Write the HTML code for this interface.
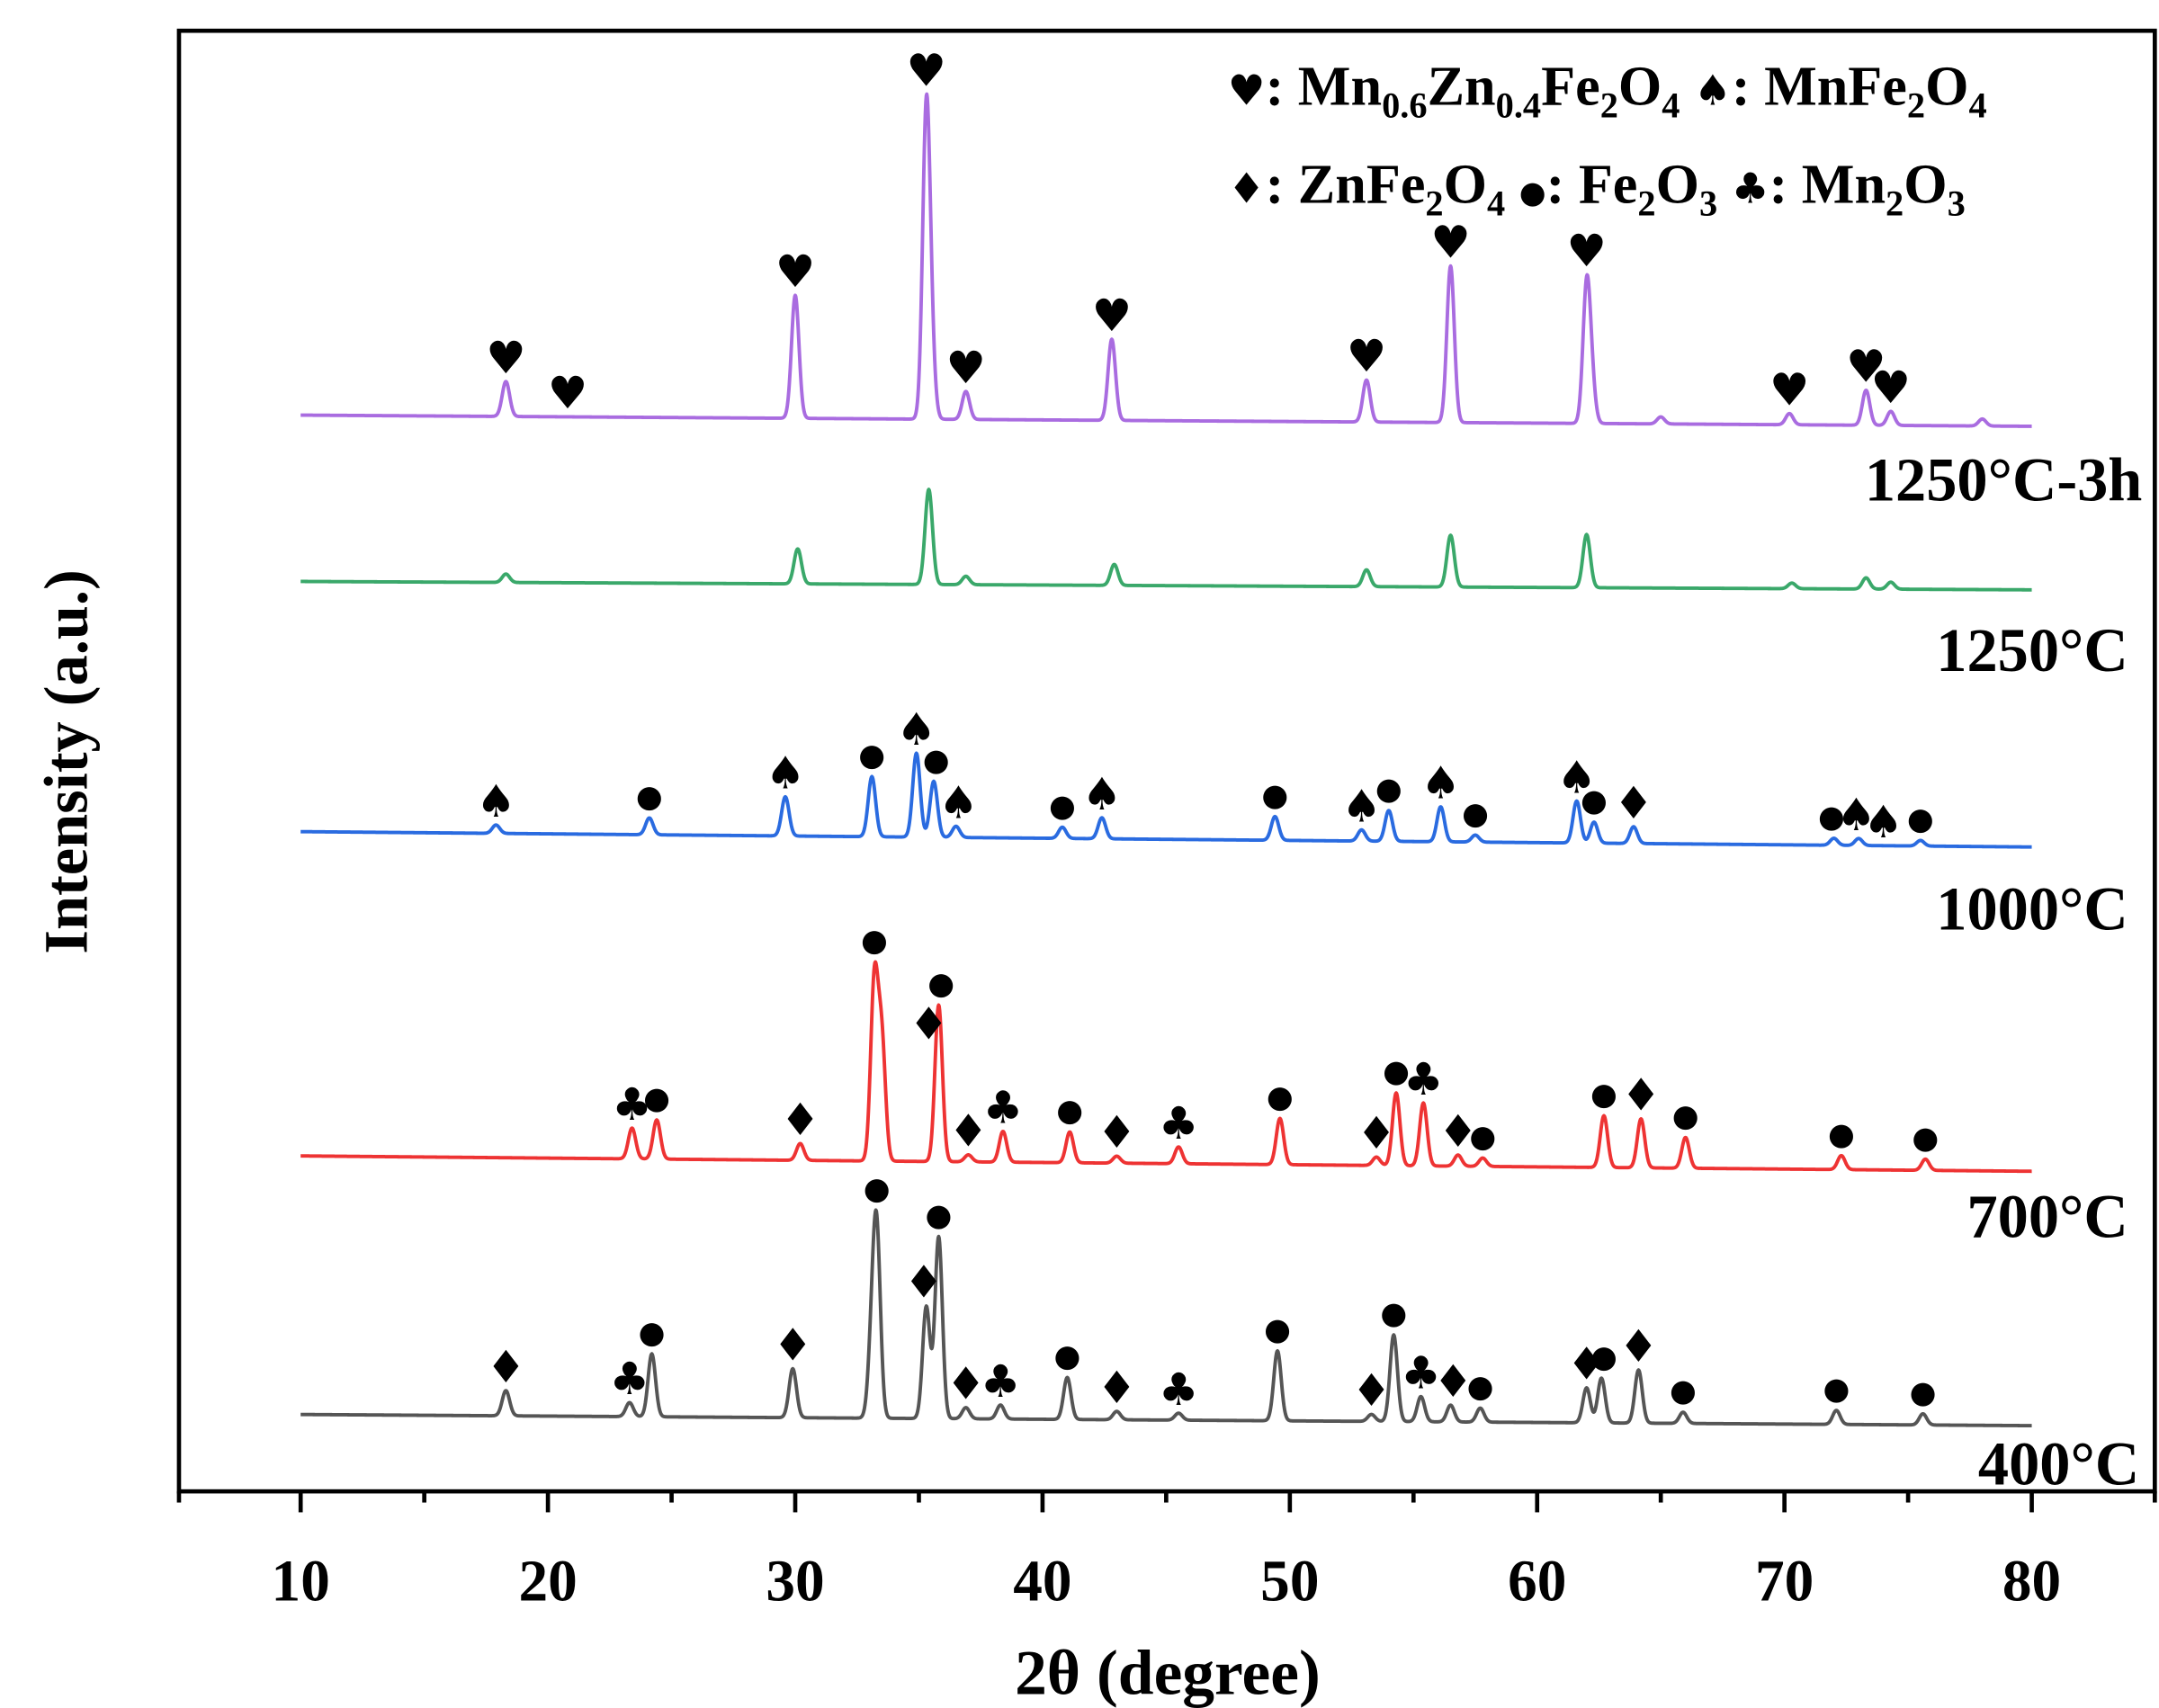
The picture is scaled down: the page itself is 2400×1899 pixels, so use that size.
<!DOCTYPE html>
<html><head><meta charset="utf-8"><style>
html,body{margin:0;padding:0;background:#fff;}
svg{display:block;}
text{font-family:"Liberation Serif",serif;font-weight:bold;fill:#000;}
.sym{font-family:"DejaVu Sans",sans-serif;font-weight:normal;}
</style></head><body>
<svg id="chart" width="2400" height="1899" viewBox="0 0 1544 1222" preserveAspectRatio="none" xmlns="http://www.w3.org/2000/svg">
<rect x="128" y="22" width="1413" height="1045" fill="none" stroke="#000" stroke-width="3"/>
<g id="xaxis"></g>
<g id="series"></g>
<g id="markers"></g>
<text x="835" y="1212" font-size="46" text-anchor="middle">2θ (degree)</text>
<text transform="translate(62,545) rotate(-90)" font-size="44" text-anchor="middle">Intensity (a.u.)</text>
<g font-size="40">
<text x="878" y="75"><tspan class="sym" font-size="30">♥</tspan>: Mn<tspan font-size="26" dy="9">0.6</tspan><tspan dy="-9">Zn</tspan><tspan font-size="26" dy="9">0.4</tspan><tspan dy="-9">Fe</tspan><tspan font-size="26" dy="9">2</tspan><tspan dy="-9">O</tspan><tspan font-size="26" dy="9">4</tspan><tspan dy="-9"> </tspan><tspan class="sym" font-size="30">♠</tspan>: MnFe<tspan font-size="26" dy="9">2</tspan><tspan dy="-9">O</tspan><tspan font-size="26" dy="9">4</tspan></text>
<text x="878" y="145"><tspan class="sym" font-size="30">♦</tspan>: ZnFe<tspan font-size="26" dy="9">2</tspan><tspan dy="-9">O</tspan><tspan font-size="26" dy="9">4</tspan><tspan dy="-9"> </tspan><tspan class="sym" font-size="22">●</tspan>: Fe<tspan font-size="26" dy="9">2</tspan><tspan dy="-9">O</tspan><tspan font-size="26" dy="9">3</tspan><tspan dy="-9"> </tspan><tspan class="sym" font-size="30">♣</tspan>: Mn<tspan font-size="26" dy="9">2</tspan><tspan dy="-9">O</tspan><tspan font-size="26" dy="9">3</tspan></text>
</g>
<g font-size="44" text-anchor="end">
<text x="1532" y="358">1250°C-3h</text>
<text x="1522" y="480">1250°C</text>
<text x="1522" y="665">1000°C</text>
<text x="1522" y="885">700°C</text>
<text x="1530" y="1062">400°C</text>
</g>
</svg>
<script>
const xTicks=[10,20,30,40,50,60,70,80];
const minorTicks=[5,15,25,35,45,55,65,75,85];
const seriesNames=["1250C-3h","1250C","1000C","700C","400C"];
const seriesColors=["#a96ce0","#3aa86a","#2a6be0","#ee3333","#555555"];
const baseStart=[297,416,595,827,1012];
const baseEnd=[305,422,606,838,1020];
const peaks3h=[[18.3,25],[30,88],[35.3,215],[35.5,40],[36.9,20],[42.8,58],[53.1,30],[56.5,112],[62,95],[62.2,25],[65,5],[70.2,8],[73.3,25],[74.3,10],[78,5]];
const peaks1250=[[18.3,6],[30.1,25],[35.4,68],[36.9,6],[42.9,15],[53.1,12],[56.5,37],[62,38],[70.3,4],[73.3,8],[74.3,5]];
const peaks1000=[[17.9,6],[24.1,12],[29.6,28],[33.1,43],[34.9,60],[35.6,40],[36.5,8],[40.8,8],[42.4,15],[49.4,17],[52.9,8],[54,22],[56.1,25],[57.5,5],[61.6,30],[62.3,15],[63.9,12],[72,5],[73,5],[75.5,4]];
const peaks700=[[23.4,22],[24.4,28],[30.2,12],[33.2,128],[33.5,85],[35.8,112],[37,5],[38.4,22],[41.1,22],[43,5],[45.5,12],[49.6,33],[53.5,6],[54.3,52],[55.4,45],[56.8,8],[57.8,6],[62.7,37],[64.2,35],[66,22],[72.3,10],[75.7,8]];
const peaks400=[[18.3,18],[23.3,10],[24.2,45],[29.9,35],[33.1,50],[33.3,125],[35.3,80],[35.8,130],[36.9,8],[38.3,10],[41,30],[43,6],[45.5,5],[49.5,50],[53.3,5],[54.2,62],[55.3,18],[56.5,12],[57.7,10],[62,25],[62.6,32],[64.1,38],[65.9,8],[72.1,10],[75.6,8]];
const allPeaks=[peaks3h,peaks1250,peaks1000,peaks700,peaks400];
const marks3h=[[18.3,"♥"],[20.8,"♥"],[30,"♥"],[35.3,"♥"],[36.9,"♥"],[42.8,"♥"],[53.1,"♥"],[56.5,"♥"],[62,"♥"],[70.2,"♥"],[73.3,"♥"],[74.3,"♥"]];
const marks1250=[];
const marks1000=[[17.9,"♠"],[24.1,"●"],[29.6,"♠"],[33.1,"●"],[34.9,"♠"],[35.7,"●"],[36.6,"♠"],[40.8,"●"],[42.4,"♠"],[49.4,"●"],[52.9,"♠"],[54,"●"],[56.1,"♠"],[57.5,"●"],[61.6,"♠"],[62.3,"●"],[63.9,"♦"],[71.9,"●"],[72.9,"♠"],[74,"♠"],[75.5,"●"]];
const marks700=[[23.4,"♣"],[24.4,"●"],[30.2,"♦"],[33.2,"●"],[35.4,"♦"],[35.9,"●"],[37,"♦"],[38.4,"♣"],[41.1,"●"],[43,"♦"],[45.5,"♣"],[49.6,"●"],[53.5,"♦"],[54.3,"●"],[55.4,"♣"],[56.8,"♦"],[57.8,"●"],[62.7,"●"],[64.2,"♦"],[66,"●"],[72.3,"●"],[75.7,"●"]];
const marks400=[[18.3,"♦"],[23.3,"♣"],[24.2,"●"],[29.9,"♦"],[33.3,"●"],[35.2,"♦"],[35.8,"●"],[36.9,"♦"],[38.3,"♣"],[41,"●"],[43,"♦"],[45.5,"♣"],[49.5,"●"],[53.3,"♦"],[54.2,"●"],[55.3,"♣"],[56.6,"♦"],[57.7,"●"],[62,"♦"],[62.7,"●"],[64.1,"♦"],[65.9,"●"],[72.1,"●"],[75.6,"●"]];
const allMarks=[marks3h,marks1250,marks1000,marks700,marks400];

const NS="http://www.w3.org/2000/svg";
function xs(v){return 215+(v-10)*(1453-215)/70;}
function profile(i,t){
  let y=baseStart[i]+(baseEnd[i]-baseStart[i])*(t-10)/70;
  for(const p of allPeaks[i]){const d=(t-p[0])/0.15;y-=p[1]*Math.exp(-0.5*d*d);}
  return y;
}
const xa=document.getElementById('xaxis');
function line(x1,y1,x2,y2,w){const l=document.createElementNS(NS,'line');l.setAttribute('x1',x1);l.setAttribute('y1',y1);l.setAttribute('x2',x2);l.setAttribute('y2',y2);l.setAttribute('stroke','#000');l.setAttribute('stroke-width',w);return l;}
for(const t of xTicks){
  const l=line(xs(t),1067,xs(t),1082,3);
  
  
  xa.appendChild(l);
  const tx=document.createElementNS(NS,'text');
  tx.setAttribute('x',xs(t));tx.setAttribute('y',1145);tx.setAttribute('font-size','42');tx.setAttribute('text-anchor','middle');
  tx.textContent=t;
  
  
  xa.appendChild(tx);
}
for(const t of minorTicks){
  const x=Math.min(1541,Math.max(128,xs(t)));
  const l=line(x,1067,x,1075,3);
  
  
  xa.appendChild(l);
}
const sg=document.getElementById('series');
const mg=document.getElementById('markers');
for(let i=0;i<seriesNames.length;i++){
  let d='';
  for(let t=10;t<=80.0001;t+=0.02){d+=(d?'L':'M')+xs(t).toFixed(2)+' '+profile(i,t).toFixed(2);}
  const p=document.createElementNS(NS,'path');
  p.setAttribute('d',d);p.setAttribute('fill','none');p.setAttribute('stroke',seriesColors[i]);p.setAttribute('stroke-width','2.5');p.setAttribute('stroke-linejoin','round');
  
  
  sg.appendChild(p);
  for(const m of allMarks[i]){
    let top=1e9;
    for(let t=m[0]-0.3;t<=m[0]+0.3;t+=0.02){top=Math.min(top,profile(i,t));}
    const isDot=m[1]==="●";
    const tx=document.createElementNS(NS,'text');
    tx.setAttribute('class','sym');
    tx.setAttribute('x',xs(m[0]));tx.setAttribute('y',top-(isDot?8:6));tx.setAttribute('font-size',isDot?'22':'32');tx.setAttribute('text-anchor','middle');
    tx.textContent=m[1];
    
    
    mg.appendChild(tx);
  }
}
</script>
</body></html>
